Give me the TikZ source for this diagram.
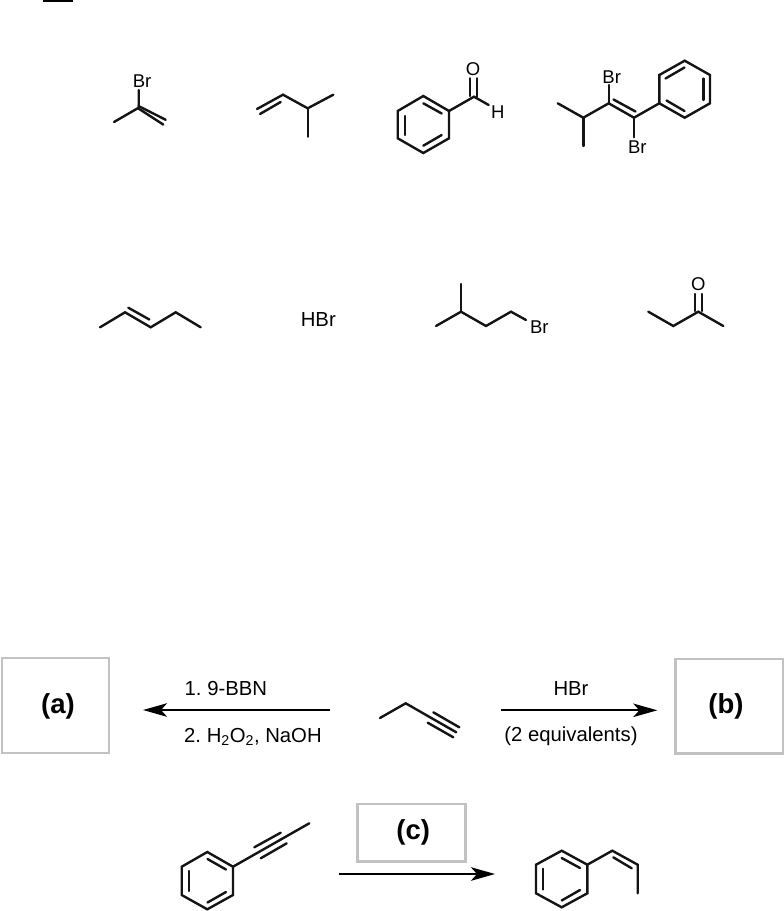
\documentclass[tikz,border=0pt]{standalone}
\usepackage{fontspec}
\setmainfont{Liberation Sans}
\usetikzlibrary{arrows.meta}
\frenchspacing
\tikzset{
  bond/.style={line width=2.4pt,line cap=round,line join=miter,black!92},
  rxnarrow/.style={line width=2.3pt,-{Stealth[length=24pt,width=13.5pt,inset=6pt]},black},
  atom/.style={inner sep=0pt,font=\fontsize{18.5}{20}\selectfont},
  reagent/.style={inner sep=0pt,font=\fontsize{20.3}{22}\selectfont},
  answerbox/.style={draw=black!24,line width=2.6pt,fill=white,inner sep=0pt},
  answerlabel/.style={inner sep=0pt,font=\bfseries\fontsize{27.5}{30}\selectfont},
}
\begin{document}
\begin{tikzpicture}[x=1pt,y=-1pt]
\useasboundingbox (0,0) rectangle (784,911);
\clip (0,0) rectangle (784,911);
% stray bar at the top edge
\coordinate (barL) at (43,1); \coordinate (barR) at (73,1);
\draw[line width=2pt,black] (barL) -- (barR);

% 2-bromopropene
\node[atom] (m1br) at (142,81) {Br};
\coordinate (m1c) at (138.7,107.7); \coordinate (m1me) at (114,122);
\coordinate (m1top) at (138.7,90);
\draw[bond] (m1me) -- (m1c) -- (m1top);
\draw[bond] (138.5,106) -- (165.7,119.8);
\draw[bond] (138.5,108.5) -- (163.3,124.6);

% 3-methylbut-1-ene
\coordinate (m2a) at (257,109); \coordinate (m2b) at (283,94.7);
\coordinate (m2c) at (307.7,108.3); \coordinate (m2d) at (333.3,94.7);
\coordinate (m2e) at (307.7,136.7);
\draw[bond] (m2a) -- (m2b) -- (m2c) -- (m2d);
\draw[bond] (m2c) -- (m2e);
\draw[bond] (260,114) -- (280.7,102);

% benzaldehyde
\coordinate (m3a) at (423.3,96); \coordinate (m3b) at (449,111);
\coordinate (m3c) at (449,138.3); \coordinate (m3d) at (423.3,153);
\coordinate (m3e) at (397.7,138.3); \coordinate (m3f) at (397.7,111);
\coordinate (m3g) at (474,96.7); \coordinate (m3hb) at (488.7,105);
\draw[bond] (m3a) -- (m3b) -- (m3c) -- (m3d) -- (m3e) -- (m3f) -- cycle;
\draw[bond] (m3b) -- (m3g) -- (m3hb);
\draw[bond] (423.3,103.3) -- (441.7,113.5);
\draw[bond] (405,116) -- (405,135);
\draw[bond] (423.3,145.7) -- (441.7,135);
\node[atom] (m3o) at (473,69.3) {O};
\node[atom] (m3h) at (497.7,111.7) {H};
\draw[bond] (470,78.3) -- (470,96);
\draw[bond] (476.7,78.3) -- (476.7,96.7);

% dibromoalkene
\coordinate (m4a) at (557.7,103.3); \coordinate (m4b) at (583.3,117.7);
\coordinate (m4c) at (583.3,146); \coordinate (m4d) at (608.7,103.3);
\coordinate (m4e) at (634,117.7); \coordinate (m4f) at (659.3,103.3);
\coordinate (m4g) at (659.3,75); \coordinate (m4h) at (684.7,60.7);
\coordinate (m4i) at (710,75); \coordinate (m4j) at (710,103.3);
\coordinate (m4k) at (684.7,117.7);
\coordinate (m4t) at (608.7,85); \coordinate (m4u) at (634,137.3);
\draw[bond] (m4a) -- (m4b) -- (m4d) -- (m4e) -- (m4f);
\draw[bond] (m4b) -- (m4c);
\draw[bond] (m4d) -- (m4t);
\draw[bond] (m4e) -- (m4u);
\draw[bond] (m4f) -- (m4g) -- (m4h) -- (m4i) -- (m4j) -- (m4k) -- cycle;
\draw[bond] (613.5,99.5) -- (635.5,111.5);
\draw[bond] (665.5,78.5) -- (684.5,67.5);
\draw[bond] (703.3,78.5) -- (703.3,100);
\draw[bond] (666.5,100.5) -- (684.5,111);
\node[atom] (m4br1) at (611.7,76.7) {Br};
\node[atom] (m4br2) at (637.3,146.7) {Br};

% pent-2-ene
\coordinate (m5a) at (100,327.3); \coordinate (m5b) at (125,312.3);
\coordinate (m5c) at (150.7,327.3); \coordinate (m5d) at (175.7,312.3);
\coordinate (m5e) at (200.7,327.3);
\draw[bond] (m5a) -- (m5b) -- (m5c) -- (m5d) -- (m5e);
\draw[bond] (128.3,307.7) -- (149.3,319.5);

\node[reagent] (hbr1) at (318.3,320) {HBr};

% 1-bromo-3-methylbutane
\coordinate (m6a) at (436,326); \coordinate (m6b) at (461,311.7);
\coordinate (m6c) at (461,284); \coordinate (m6d) at (486,326);
\coordinate (m6e) at (511,311.7); \coordinate (m6f) at (526,320);
\draw[bond] (m6a) -- (m6b) -- (m6d) -- (m6e) -- (m6f);
\draw[bond] (m6b) -- (m6c);
\node[atom] (m6br) at (539.3,327.3) {Br};

% butanone
\coordinate (m7a) at (648.3,311.7); \coordinate (m7b) at (673.3,326);
\coordinate (m7c) at (698.3,311.7); \coordinate (m7d) at (723.3,326);
\draw[bond] (m7a) -- (m7b) -- (m7c) -- (m7d);
\draw[bond] (695,294) -- (695,311);
\draw[bond] (701.7,294) -- (701.7,311);
\node[atom] (m7o) at (698.3,284.3) {O};

% answer boxes
\node[answerbox,minimum width=107pt,minimum height=95pt] (boxa) at (55.5,705.5) {};
\node[answerlabel] (la) at (58,706.5) {(a)};
\node[answerbox,minimum width=107.6pt,minimum height=94.3pt] (boxb) at (729.5,706.2) {};
\node[answerlabel] (lb) at (726,706.5) {(b)};
\node[answerbox,minimum width=107.6pt,minimum height=57.3pt] (boxc) at (411.5,832.7) {};
\node[answerlabel] (lc) at (413.3,832.7) {(c)};

% upper reaction
\coordinate (a1s) at (330,710); \coordinate (a1e) at (143,710);
\draw[rxnarrow] (a1s) -- (a1e);
\node[reagent,anchor=west] (r1) at (184.5,689) {1. 9-BBN};
\node[reagent,anchor=west] (r2) at (184,736.5) {2. H\textsubscript{2}O\textsubscript{2}, NaOH};
\coordinate (a2s) at (501,710.3); \coordinate (a2e) at (657.3,710.3);
\draw[rxnarrow] (a2s) -- (a2e);
\node[reagent] (r3) at (571,689) {HBr};
\node[reagent] (r4) at (571,736.5) {(2 equivalents)};

% but-1-yne
\coordinate (m8a) at (380,718); \coordinate (m8b) at (405.7,703.3);
\coordinate (m8c) at (456.3,732.3);
\draw[bond] (m8a) -- (m8b) -- (m8c);
\draw[bond] (433.3,712.3) -- (459.3,727.3);
\draw[bond] (427.7,722.7) -- (453.3,737.3);

% 1-phenylpropyne
\coordinate (m9a) at (233,866.7); \coordinate (m9b) at (207.3,852);
\coordinate (m9c) at (181.7,866.7); \coordinate (m9d) at (181.7,895);
\coordinate (m9e) at (207.3,909.3); \coordinate (m9f) at (233,895);
\coordinate (m9g) at (309.3,823.3);
\draw[bond] (m9a) -- (m9b) -- (m9c) -- (m9d) -- (m9e) -- (m9f) -- cycle;
\draw[bond] (m9a) -- (m9g);
\draw[bond] (254.3,847.3) -- (280.7,832.7);
\draw[bond] (260.7,858.3) -- (286.7,843.3);
\draw[bond] (207.5,859) -- (226,869.5);
\draw[bond] (188.7,871) -- (188.7,891);
\draw[bond] (207.5,902.5) -- (226,892);

\coordinate (a3s) at (338.7,874); \coordinate (a3e) at (495,874);
\draw[rxnarrow] (a3s) -- (a3e);

% cis-propenylbenzene
\coordinate (m10a) at (587.3,864.7); \coordinate (m10b) at (561.7,850.7);
\coordinate (m10c) at (536,864.7); \coordinate (m10d) at (536,893.3);
\coordinate (m10e) at (561.7,907.3); \coordinate (m10f) at (587.3,893.3);
\coordinate (m10g) at (612.3,850.7); \coordinate (m10h) at (637.7,864.7);
\coordinate (m10i) at (637.7,893.3);
\draw[bond] (m10a) -- (m10b) -- (m10c) -- (m10d) -- (m10e) -- (m10f) -- cycle;
\draw[bond] (m10a) -- (m10g) -- (m10h) -- (m10i);
\draw[bond] (613.3,857.3) -- (631.7,868.3);
\draw[bond] (561.7,858) -- (580,868);
\draw[bond] (543,868.7) -- (543,889.5);
\draw[bond] (561.7,900.5) -- (580,890);
\end{tikzpicture}
\end{document}
